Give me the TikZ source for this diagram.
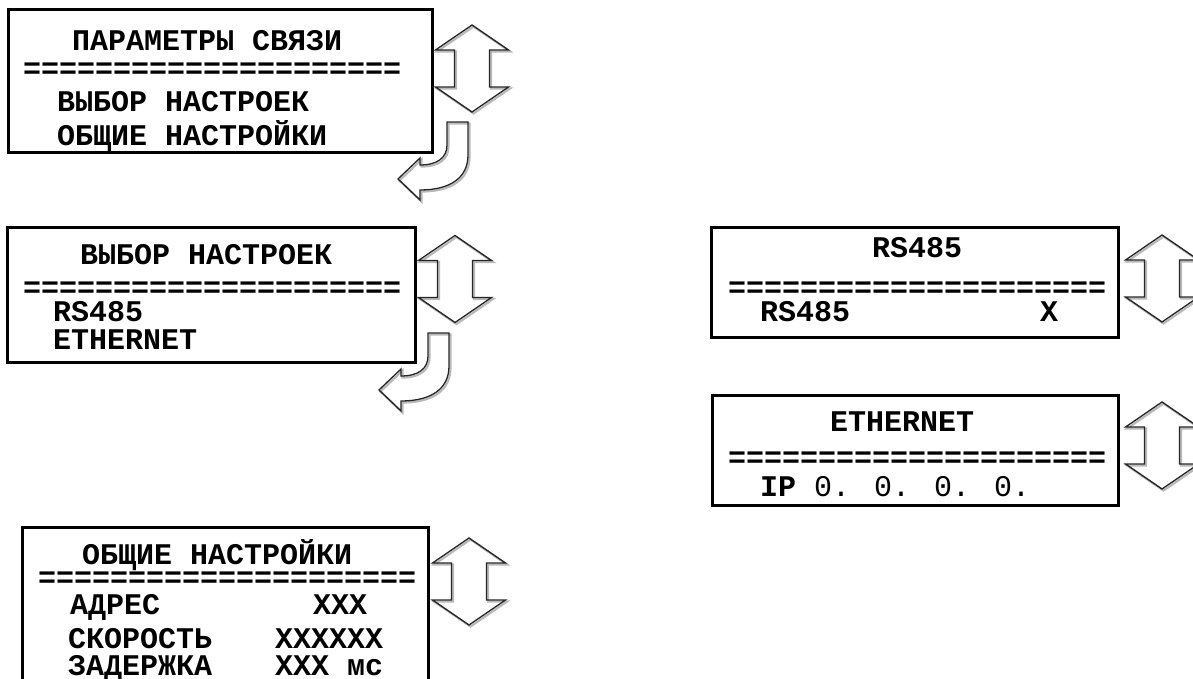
\documentclass[tikz,border=0pt]{standalone}
\usepackage{fontspec}
\newfontfamily\lcdfont{Liberation Mono}
\usetikzlibrary{positioning}

\begin{document}
\begin{tikzpicture}[
  x=1pt, y=-1pt,
  screen/.style={draw, line width=3pt, inner sep=0pt},
  txt/.style={font=\lcdfont\bfseries\fontsize{30}{36}\selectfont, inner sep=0pt, anchor=base west},
  updown/.pic={
    \draw[gray!55, line width=2.2pt, shift={(1.5,1.5)}] (0,-43.5) -- (36.5,-18.5) -- (17.5,-18.5) -- (17.5,18.5) -- (36.5,18.5) -- (0,43.5) -- (-36.5,18.5) -- (-17.5,18.5) -- (-17.5,-18.5) -- (-36.5,-18.5) -- cycle;
    \draw[black!85, line width=1.3pt, line join=miter] (0,-43.5) -- (36.5,-18.5) -- (17.5,-18.5) -- (17.5,18.5) -- (36.5,18.5) -- (0,43.5) -- (-36.5,18.5) -- (-17.5,18.5) -- (-17.5,-18.5) -- (-36.5,-18.5) -- cycle;
  },
  turnleft/.pic={
    \draw[gray!55, line width=2.2pt, shift={(1.5,1.5)}] (0,0) -- (21,0) -- (21,33) .. controls (21,56) and (3,68) .. (-27,68) -- (-27,78) -- (-49,57) -- (-27,36) -- (-27,43) .. controls (-10,43) and (0,36) .. (0,23) -- cycle;
    \draw[black!85, line width=1.3pt] (0,0) -- (21,0) -- (21,33) .. controls (21,56) and (3,68) .. (-27,68) -- (-27,78) -- (-49,57) -- (-27,36) -- (-27,43) .. controls (-10,43) and (0,36) .. (0,23) -- cycle;
  }
]
\path[use as bounding box, clip] (0,0) rectangle (1193,679);

% main menu
\node[screen, minimum width=424pt, minimum height=143pt] (menu) at (220,81.5) {};
\node[txt] (menu-title) at (72,51) {ПАРАМЕТРЫ СВЯЗИ};
\node[txt] (menu-sep) at (23,79) {=====================};
\node[txt] (menu-a) at (57,112) {ВЫБОР НАСТРОЕК};
\node[txt] (menu-b) at (57,146) {ОБЩИЕ НАСТРОЙКИ};
\pic (menu-nav) at (472,68.5) {updown};
\pic (menu-enter) at (447,122) {turnleft};

% choice of settings
\node[screen, minimum width=408pt, minimum height=135pt] (sel) at (211,294.5) {};
\node[txt] (sel-title) at (80,264) {ВЫБОР НАСТРОЕК};
\node[txt] (sel-sep) at (23,297) {=====================};
\node[txt] (sel-a) at (53,321) {RS485};
\node[txt] (sel-b) at (53,349) {ETHERNET};
\pic (sel-nav) at (455,279) {updown};
\pic (sel-enter) at (428,333) {turnleft};

% RS485
\node[screen, minimum width=407pt, minimum height=110pt] (rsbox) at (914.5,282) {};
\node[txt] (rs-title) at (872,257) {RS485};
\node[txt] (rs-sep) at (728,297) {=====================};
\node[txt] (rs-a) at (760,321) {RS485};
\node[txt] (rs-val) at (1040,321) {X};
\pic (rs-nav) at (1162,278.5) {updown};

% Ethernet
\node[screen, minimum width=406pt, minimum height=110pt] (ethbox) at (915,450) {};
\node[txt] (eth-title) at (830,431) {ETHERNET};
\node[txt] (eth-sep) at (728,467) {=====================};
\node[txt] (eth-ip) at (760,496) {IP\mdseries\ 0. 0. 0. 0.};
\pic (eth-nav) at (1162,445.5) {updown};

% common settings
\node[screen, minimum width=406pt, minimum height=173pt] (genbox) at (225,613.5) {};
\node[txt] (gen-title) at (82,564) {ОБЩИЕ НАСТРОЙКИ};
\node[txt] (gen-sep) at (38,587) {=====================};
\node[txt] (gen-a) at (70,614) {АДРЕС};
\node[txt] (gen-aval) at (313,614) {ХХХ};
\node[txt] (gen-b) at (68,648) {СКОРОСТЬ};
\node[txt] (gen-bval) at (275,648) {ХХХХХХ};
\node[txt] (gen-c) at (68,675) {ЗАДЕРЖКА};
\node[txt] (gen-cval) at (275,675) {ХХХ мс};
\pic (gen-nav) at (469,581.5) {updown};

\end{tikzpicture}
\end{document}
